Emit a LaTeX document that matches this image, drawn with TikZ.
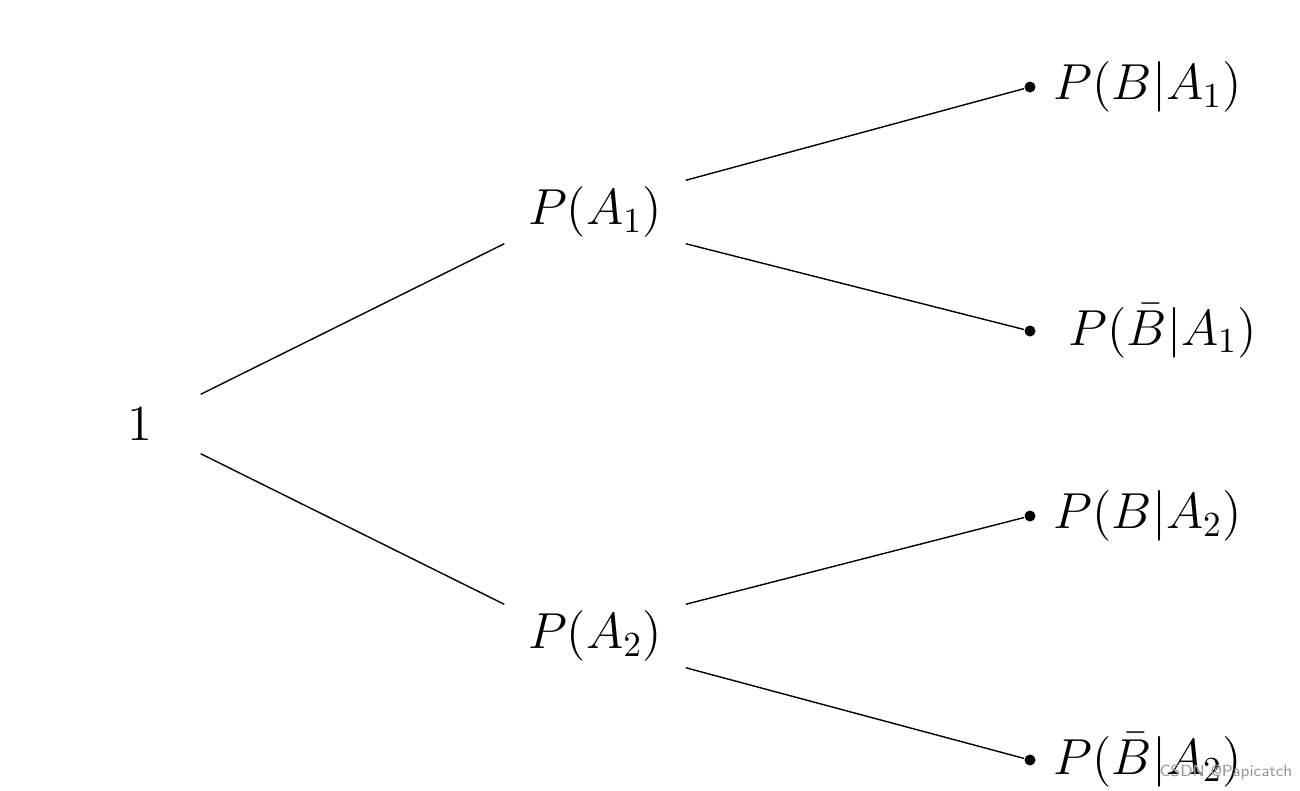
\documentclass[tikz,border=0pt]{standalone}
\usepackage{tikz}
\usetikzlibrary{positioning}
\definecolor{markcolor}{RGB}{150, 150, 150}

\begin{document}
\begin{tikzpicture}[x=0.01cm,y=-0.01cm,
    font=\fontsize{13.6}{16}\selectfont,
    rootnode/.style={minimum width=1.2cm,minimum height=0.58cm,inner sep=0},
    probnode/.style={minimum width=1.8cm,minimum height=0.62cm,inner sep=0},
    leafdot/.style={circle,fill=black,inner sep=0,minimum size=0.11cm}]
        \useasboundingbox (0,0) rectangle (1300,790);
        % Root and first level
        \node[rootnode] (one) at (140,424) {$1$};
        \node[probnode] (a1) at (595,212) {$P(A_1)$};
        \node[probnode] (a2) at (595,636) {$P(A_2)$};
        % Second level ends
        \node[leafdot] (b1) at (1030,87) {};
        \node[leafdot] (b2) at (1030,331) {};
        \node[leafdot] (b3) at (1030,516) {};
        \node[leafdot] (b4) at (1030,760) {};
        \node[anchor=west,right=0.05cm of b1] (l1) {$P(B|A_1)$};
        \node[anchor=west,right=0.2cm of b2] (l2) {$P(\bar{B}|A_1)$};
        \node[anchor=west,right=0.05cm of b3] (l3) {$P(B|A_2)$};
        \node[anchor=west,right=0.05cm of b4] (l4) {$P(\bar{B}|A_2)$};
        % Branches
        \draw (one.north east) -- (a1.south west);
        \draw (one.south east) -- (a2.north west);
        \draw (a1.north east) -- (b1);
        \draw (a1.south east) -- (b2);
        \draw (a2.north east) -- (b3);
        \draw (a2.south east) -- (b4);
        % Watermark
        \node[font=\sffamily\fontsize{4.6}{5}\selectfont,text=markcolor] (mark) at (1226,772) {CSDN @Papicatch};
    \end{tikzpicture}
\end{document}
